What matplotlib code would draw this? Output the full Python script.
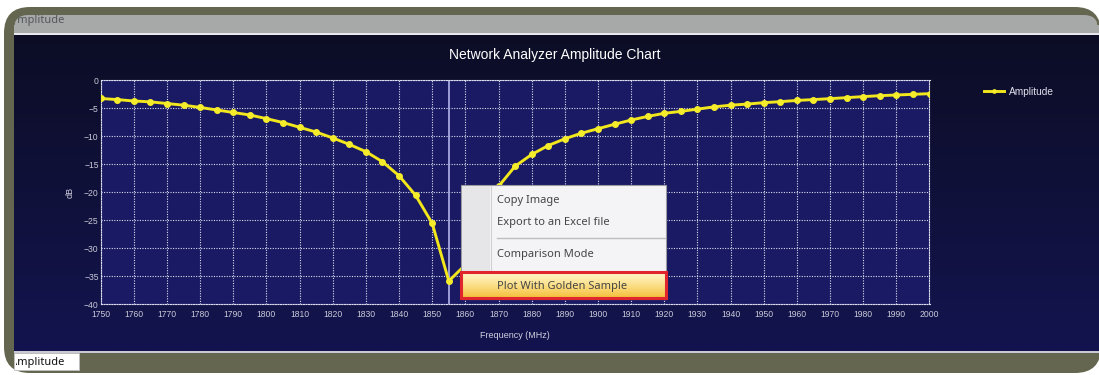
import matplotlib
matplotlib.use('Agg')
import matplotlib.pyplot as plt
import numpy as np
from matplotlib.patches import FancyBboxPatch, Rectangle
from matplotlib.colors import LinearSegmentedColormap

# Data
freq_mhz = list(range(1750, 2001, 5))
amplitude_db = [
    -3.3, -3.5, -3.75, -3.9, -4.2, -4.5, -4.9, -5.35, -5.8, -6.25,
    -6.9, -7.6, -8.45, -9.3, -10.35, -11.5, -12.8, -14.6, -17.1, -20.6,
    -25.6, -35.9, -33.0, -25.5, -19.0, -15.4, -13.3, -11.7, -10.5, -9.5,
    -8.7, -7.9, -7.15, -6.5, -5.95, -5.6, -5.2, -4.8, -4.5, -4.3,
    -4.05, -3.87, -3.65, -3.5, -3.33, -3.15, -2.97, -2.8, -2.68, -2.56,
    -2.44,
]
x_ticks = list(range(1750, 2001, 10))
y_ticks = [0, -5, -10, -15, -20, -25, -30, -35, -40]
cursor_freq = 1855
menu_items = ['Copy Image', 'Export to an Excel file', 'Comparison Mode', 'Plot With Golden Sample']

W, H = 1099, 375
fig = plt.figure(figsize=(W / 100, H / 100), dpi=100)
fig.patch.set_facecolor('white')

# ---- window chrome (pixel coords, y down) ----
bg = fig.add_axes([0, 0, 1, 1], zorder=0)
bg.set_xlim(0, W)
bg.set_ylim(H, 0)
bg.axis('off')

OLIVE = '#65664f'
frame = FancyBboxPatch((4, 7), 1097, 366, boxstyle='round,pad=0,rounding_size=26',
                       facecolor=OLIVE, edgecolor='none')
bg.add_patch(frame)
bg.add_patch(FancyBboxPatch((14, 15), 1084, 20, boxstyle='round,pad=0,rounding_size=14',
                            facecolor='#a7a9a9', edgecolor='none'))
bg.add_patch(Rectangle((14, 25), 1085, 10, facecolor='#a7a9a9', edgecolor='none'))
bg.add_patch(Rectangle((14, 33), 1085, 2.5, facecolor='#e8e8ee', edgecolor='none'))

grad = np.linspace(0, 1, 256).reshape(-1, 1)
cmap_bg = LinearSegmentedColormap.from_list('bg', ['#0c0d25', '#10113a', '#13144f'])
bg.imshow(grad, cmap=cmap_bg, extent=(14, W, 351, 35.5), aspect='auto', zorder=1)
bg.add_patch(Rectangle((14, 350.5), 1085, 2.5, facecolor='#c9c9d6', edgecolor='none', zorder=2))

clip_top = Rectangle((17, 0), 300, 40, transform=bg.transData)
t = bg.text(10, 21, 'Amplitude', fontsize=8, color='#55585a', va='center', ha='left',
            family='Noto Sans', zorder=3)
t.set_clip_on(True)
t.set_clip_path(clip_top)

bg.add_patch(Rectangle((14, 353), 65, 17, facecolor='white', edgecolor='#c0c0c0', lw=0.6, zorder=3))
clip_bot = Rectangle((16, 340), 200, 40, transform=bg.transData)
t2 = bg.text(10, 362, 'Amplitude', fontsize=8, color='#111111', va='center', ha='left',
             family='Noto Sans', zorder=4)
t2.set_clip_on(True)
t2.set_clip_path(clip_bot)

# ---- the chart ----
px0, px1, py0, py1 = 100.7, 929.5, 80, 304
ax = fig.add_axes([px0 / W, (H - py1) / H, (px1 - px0) / W, (py1 - py0) / H], zorder=1)
ax.set_facecolor('#191a63')
ax.set_xlim(1750, 2000)
ax.set_ylim(-40, 0)
ax.set_xticks(x_ticks)
ax.set_yticks(y_ticks)
ax.grid(True, color='#dcdcf0', linestyle=(0, (1, 1.3)), linewidth=0.8)
for s in ax.spines.values():
    s.set_color('#dcdcf0')
    s.set_linestyle((0, (1, 1.3)))
    s.set_linewidth(0.8)
ax.tick_params(length=0, colors='#c9c9d9', labelsize=6.2, pad=4)
ax.tick_params(axis='y', pad=1.5)
for lab in ax.get_xticklabels() + ax.get_yticklabels():
    lab.set_family('Liberation Sans')

ax.axvline(cursor_freq, color='#a7a7e0', lw=1.3, zorder=2)
ax.plot(freq_mhz, amplitude_db, color='#f2e61c', lw=2.1, marker='o', markersize=4,
        markerfacecolor='#f5ec2c', markeredgecolor='#f5ec2c', label='Amplitude', zorder=3)

ax.set_xlabel('Frequency (MHz)', color='#d0d0de', fontsize=6.5, family='Liberation Sans', labelpad=9)
ax.set_ylabel('dB', color='#d0d0de', fontsize=6.5, family='Liberation Sans', labelpad=7)
fig.text(555 / W, 1 - 55 / H, 'Network Analyzer Amplitude Chart', color='white', fontsize=10,
         ha='center', va='center', family='Liberation Sans')

leg = ax.legend(loc='center left', bbox_to_anchor=(975 / W, 1 - 92 / H),
                bbox_transform=fig.transFigure, frameon=False,
                handlelength=2.0, handletextpad=0.5, markerscale=0.6,
                prop={'family': 'Liberation Sans', 'size': 7.3})
for txt in leg.get_texts():
    txt.set_color('#e0e0ee')

# ---- context menu overlay ----
ov = fig.add_axes([0, 0, 1, 1], zorder=5)
ov.set_xlim(0, W)
ov.set_ylim(H, 0)
ov.axis('off')
ov.patch.set_alpha(0)

ov.add_patch(Rectangle((461, 185), 205, 114, facecolor='#f4f4f6', edgecolor='#9a9aa0', lw=0.8))
ov.add_patch(Rectangle((462, 186), 28, 112, facecolor='#e6e6e9', edgecolor='none'))
ov.plot([490.5, 490.5], [186, 298], color='#d0d0d4', lw=0.8)
ov.plot([497, 665], [237.5, 237.5], color='#bcbcc2', lw=1.0)

hl = np.linspace(0, 1, 64).reshape(-1, 1)
cmap_hl = LinearSegmentedColormap.from_list('hl', ['#fff6c8', '#fbe08a', '#f5c040'])
ov.imshow(hl, cmap=cmap_hl, extent=(462, 665, 297, 273), aspect='auto', zorder=3)
ov.add_patch(Rectangle((461, 272), 204.5, 26, facecolor='none', edgecolor='#e0262c', lw=2.2, zorder=4))

menu_y = [200, 222, 254, 286]
for label, yy in zip(menu_items, menu_y):
    ov.text(497, yy, label, fontsize=8, color='#454545', va='center', ha='left',
            family='Noto Sans', zorder=5)

fig.savefig('out.png', dpi=100, facecolor='white')
